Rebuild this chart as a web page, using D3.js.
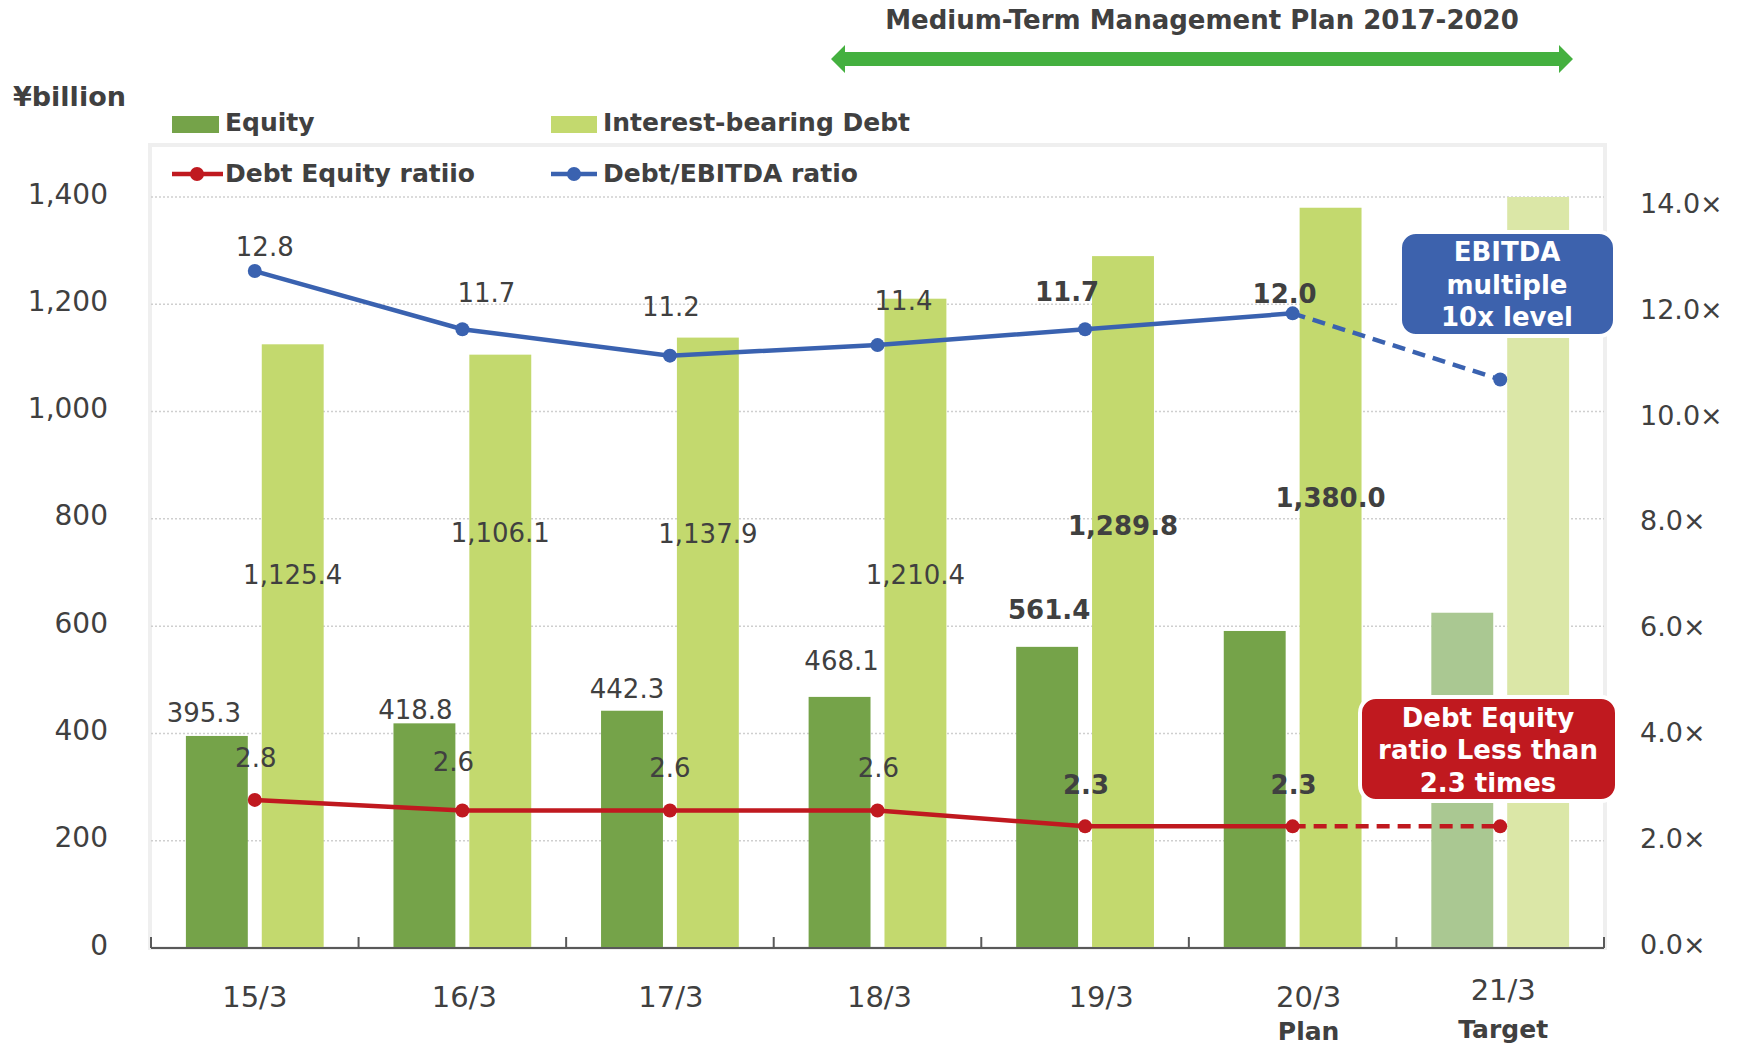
<!DOCTYPE html>
<html>
<head>
<meta charset="utf-8">
<script src="https://cdn.jsdelivr.net/npm/d3@7"></script>
<style>
  body { margin: 0; background: #fff; }
  svg text { font-family: "DejaVu Sans", Verdana, sans-serif; fill: #404040; }
</style>
</head>
<body>
<svg id="chart"></svg>
<script>
// data
var categories = ["15/3", "16/3", "17/3", "18/3", "19/3", "20/3", "21/3"];
var subLabels = ["", "", "", "", "", "Plan", "Target"];
var equity = [395.3, 418.8, 442.3, 468.1, 561.4, 591, 625];
var debt = [1125.4, 1106.1, 1137.9, 1210.4, 1289.8, 1380.0, 1400];
var deRatio = [2.8, 2.6, 2.6, 2.6, 2.3, 2.3, 2.3];
var ebitdaRatio = [12.8, 11.7, 11.2, 11.4, 11.7, 12.0, 10.75];
var equityLabels = ["395.3", "418.8", "442.3", "468.1", "561.4", "", ""];
var debtLabels = ["1,125.4", "1,106.1", "1,137.9", "1,210.4", "1,289.8", "1,380.0", ""];
var deLabels = ["2.8", "2.6", "2.6", "2.6", "2.3", "2.3", ""];
var ebitdaLabels = ["12.8", "11.7", "11.2", "11.4", "11.7", "12.0", ""];
var leftTicks = [0, 200, 400, 600, 800, 1000, 1200, 1400];
var rightTicks = [0, 2, 4, 6, 8, 10, 12, 14];

// label placement (left axis units / pixel nudges)
var equityLabelAt = [438, 444, 483, 535, 630];
var equityDx = [-13, -9, -5, 2, 2];
var debtLabelAt = [695, 774, 772, 695, 787, 839];
var ebitdaDx = [10, 24, 1, 26, -18, -8], ebitdaDy = [-24, -36, -49, -44, -37, -19];
var deDx = [1, -9, 0, 1, 1, 1], deDy = [-42, -48, -42, -42, -41, -41];
var catDx = [0, 2, 1, 2, 16, 16, 3];

var W = 1740, H = 1046;
var pLeft = 151, pRight = 1604, pTop = 197, pBottom = 948;
var boldIdx = function(i) { return i >= 4; };

var svg = d3.select("#chart").attr("width", W).attr("height", H);

var x = d3.scaleBand().domain(categories).range([pLeft, pRight]);
var x1 = d3.scaleBand().domain(["equity", "debt"]).range([0, x.bandwidth()])
           .paddingInner(0.184).paddingOuter(0.46);
var y = d3.scaleLinear().domain([0, 1400]).range([pBottom, pTop]);
var y2 = d3.scaleLinear().domain([0, 14.2]).range([pBottom, pTop]);

// frame
svg.append("rect").attr("x", pLeft - 1).attr("y", 145).attr("width", pRight - pLeft + 2)
   .attr("height", pBottom - 145).attr("fill", "none").attr("stroke", "#efefef").attr("stroke-width", 4);

// grid
svg.append("g").selectAll("line").data(leftTicks.slice(1)).enter().append("line")
   .attr("x1", pLeft).attr("x2", pRight)
   .attr("y1", function(d) { return y(d); }).attr("y2", function(d) { return y(d); })
   .attr("stroke", "#cfcfcf").attr("stroke-width", 1.5).attr("stroke-dasharray", "2,2");

// bars
var equityCol = function(i) { return i == 6 ? "#aac892" : "#75a349"; };
var debtCol = function(i) { return i == 6 ? "#dbe7a7" : "#c3d96e"; };

svg.append("g").selectAll("rect").data(equity).enter().append("rect")
   .attr("x", function(d, i) { return x(categories[i]) + x1("equity"); })
   .attr("y", function(d) { return y(d); })
   .attr("width", x1.bandwidth())
   .attr("height", function(d) { return pBottom - y(d); })
   .attr("fill", function(d, i) { return equityCol(i); });

svg.append("g").selectAll("rect").data(debt).enter().append("rect")
   .attr("x", function(d, i) { return x(categories[i]) + x1("debt"); })
   .attr("y", function(d) { return y(d); })
   .attr("width", x1.bandwidth())
   .attr("height", function(d) { return pBottom - y(d); })
   .attr("fill", function(d, i) { return debtCol(i); });

// bottom axis
var xAxis = svg.append("g");
xAxis.append("line").attr("x1", pLeft).attr("x2", pRight).attr("y1", pBottom).attr("y2", pBottom)
     .attr("stroke", "#595959").attr("stroke-width", 2);
xAxis.selectAll("line.tick").data(categories.concat(["end"])).enter().append("line")
     .attr("class", "tick")
     .attr("x1", function(d, i) { return pLeft + i * x.step(); })
     .attr("x2", function(d, i) { return pLeft + i * x.step(); })
     .attr("y1", pBottom).attr("y2", pBottom - 11)
     .attr("stroke", "#595959").attr("stroke-width", 2);

xAxis.selectAll("text.cat").data(categories).enter().append("text")
     .attr("class", "cat")
     .attr("x", function(d, i) { return x(d) + x.bandwidth() / 2 + catDx[i]; })
     .attr("y", function(d, i) { return i == 6 ? 990 : 997; })
     .attr("text-anchor", "middle").attr("dominant-baseline", "central")
     .attr("font-size", 29).text(function(d) { return d; });
xAxis.selectAll("text.sub").data(subLabels).enter().append("text")
     .attr("class", "sub")
     .attr("x", function(d, i) { return x(categories[i]) + x.bandwidth() / 2 + catDx[i]; })
     .attr("y", function(d, i) { return i == 6 ? 1029 : 1031; })
     .attr("text-anchor", "middle").attr("dominant-baseline", "central")
     .attr("font-size", 25).attr("font-weight", "bold").text(function(d) { return d; });

// left axis labels
svg.append("g").selectAll("text").data(leftTicks).enter().append("text")
   .attr("x", 108).attr("y", function(d) { return y(d) - 3; })
   .attr("text-anchor", "end").attr("dominant-baseline", "central")
   .attr("font-size", 28).text(function(d) { return d3.format(",")(d); });

// right axis labels
svg.append("g").selectAll("text").data(rightTicks).enter().append("text")
   .attr("x", 1640).attr("y", function(d) { return y2(d) - 4; })
   .attr("dominant-baseline", "central")
   .attr("font-size", 27).text(function(d) { return d3.format(".1f")(d) + "\u00d7"; });

// lines
function drawLine(values, col) {
  var solid = d3.line()
      .x(function(d, i) { return x(categories[i]) + x.bandwidth() / 2; })
      .y(function(d) { return y2(d); });
  var pts = values.map(function(d, i) { return [x(categories[i]) + x.bandwidth() / 2, y2(d)]; });
  svg.append("path").datum(values.slice(0, 6)).attr("d", solid)
     .attr("fill", "none").attr("stroke", col).attr("stroke-width", 4.5);
  svg.append("path").datum(pts.slice(5)).attr("d", d3.line())
     .attr("fill", "none").attr("stroke", col).attr("stroke-width", 4.5).attr("stroke-dasharray", "13,8");
  svg.append("g").selectAll("circle").data(pts).enter().append("circle")
     .attr("cx", function(d) { return d[0]; }).attr("cy", function(d) { return d[1]; })
     .attr("r", 7).attr("fill", col);
}
drawLine(deRatio, "#c0191f");
drawLine(ebitdaRatio, "#3a62b0");

// data labels
svg.append("g").selectAll("text").data(equityLabels.slice(0, 5)).enter().append("text")
   .attr("x", function(d, i) { return x(categories[i]) + x1("equity") + x1.bandwidth() / 2 + equityDx[i]; })
   .attr("y", function(d, i) { return y(equityLabelAt[i]); })
   .attr("text-anchor", "middle").attr("dominant-baseline", "central")
   .attr("font-size", 26).attr("font-weight", function(d, i) { return boldIdx(i) ? "bold" : "normal"; })
   .text(function(d) { return d; });

svg.append("g").selectAll("text").data(debtLabels.slice(0, 6)).enter().append("text")
   .attr("x", function(d, i) { return x(categories[i]) + x1("debt") + x1.bandwidth() / 2; })
   .attr("y", function(d, i) { return y(debtLabelAt[i]); })
   .attr("text-anchor", "middle").attr("dominant-baseline", "central")
   .attr("font-size", 26).attr("font-weight", function(d, i) { return boldIdx(i) ? "bold" : "normal"; })
   .text(function(d) { return d; });

svg.append("g").selectAll("text").data(ebitdaLabels.slice(0, 6)).enter().append("text")
   .attr("x", function(d, i) { return x(categories[i]) + x.bandwidth() / 2 + ebitdaDx[i]; })
   .attr("y", function(d, i) { return y2(ebitdaRatio[i]) + ebitdaDy[i]; })
   .attr("text-anchor", "middle").attr("dominant-baseline", "central")
   .attr("font-size", 26).attr("font-weight", function(d, i) { return boldIdx(i) ? "bold" : "normal"; })
   .text(function(d) { return d; });

svg.append("g").selectAll("text").data(deLabels.slice(0, 6)).enter().append("text")
   .attr("x", function(d, i) { return x(categories[i]) + x.bandwidth() / 2 + deDx[i]; })
   .attr("y", function(d, i) { return y2(deRatio[i]) + deDy[i]; })
   .attr("text-anchor", "middle").attr("dominant-baseline", "central")
   .attr("font-size", 26).attr("font-weight", function(d, i) { return boldIdx(i) ? "bold" : "normal"; })
   .text(function(d) { return d; });

// unit label
svg.append("text").attr("x", 13).attr("y", 96).attr("dominant-baseline", "central")
   .attr("font-size", 27).attr("font-weight", "bold").text("\u00a5billion");

// legend
var leg = svg.append("g").attr("font-size", 25).attr("font-weight", "bold");
leg.append("rect").attr("x", 172).attr("y", 116).attr("width", 47).attr("height", 17).attr("fill", "#75a349");
leg.append("text").attr("x", 225).attr("y", 122).attr("dominant-baseline", "central").text("Equity");
leg.append("rect").attr("x", 551).attr("y", 116).attr("width", 46).attr("height", 17).attr("fill", "#c3d96e");
leg.append("text").attr("x", 603).attr("y", 122).attr("dominant-baseline", "central").text("Interest-bearing Debt");
leg.append("line").attr("x1", 172).attr("x2", 223).attr("y1", 174).attr("y2", 174).attr("stroke", "#c0191f").attr("stroke-width", 4.5);
leg.append("circle").attr("cx", 197).attr("cy", 174).attr("r", 7).attr("fill", "#c0191f");
leg.append("text").attr("x", 225).attr("y", 173).attr("dominant-baseline", "central").text("Debt Equity ratiio");
leg.append("line").attr("x1", 551).attr("x2", 597).attr("y1", 174).attr("y2", 174).attr("stroke", "#3a62b0").attr("stroke-width", 4.5);
leg.append("circle").attr("cx", 574).attr("cy", 174).attr("r", 7).attr("fill", "#3a62b0");
leg.append("text").attr("x", 603).attr("y", 173).attr("dominant-baseline", "central").text("Debt/EBITDA ratio");

// medium-term plan header
svg.append("text").attr("x", 1202).attr("y", 20).attr("text-anchor", "middle").attr("dominant-baseline", "central")
   .attr("font-size", 26).attr("font-weight", "bold").text("Medium-Term Management Plan 2017-2020");
var ax0 = 831, ax1 = 1573, ay = 59;
svg.append("path")
   .attr("d", "M" + ax0 + "," + ay + " L" + (ax0 + 14) + "," + (ay - 14) + " L" + (ax0 + 14) + "," + (ay - 7) +
              " L" + (ax1 - 14) + "," + (ay - 7) + " L" + (ax1 - 14) + "," + (ay - 14) + " L" + ax1 + "," + ay +
              " L" + (ax1 - 14) + "," + (ay + 14) + " L" + (ax1 - 14) + "," + (ay + 7) + " L" + (ax0 + 14) + "," + (ay + 7) +
              " L" + (ax0 + 14) + "," + (ay + 14) + " Z")
   .attr("fill", "#44b03f");

// callouts
function callout(x0, y0, w, h, col, lines, cx, ly) {
  svg.append("rect").attr("x", x0).attr("y", y0).attr("width", w).attr("height", h)
     .attr("rx", 16).attr("fill", col).attr("stroke", "#fff").attr("stroke-width", 4);
  svg.append("g").selectAll("text").data(lines).enter().append("text")
     .attr("x", cx).attr("y", function(d, i) { return ly[i]; })
     .attr("text-anchor", "middle").attr("dominant-baseline", "central")
     .attr("font-size", 26).attr("font-weight", "bold").style("fill", "#fff")
     .text(function(d) { return d; });
}
callout(1400, 232, 215, 104, "#3d62ad", ["EBITDA", "multiple", "10x level"], 1507, [252, 285, 317]);
callout(1360, 697, 257, 104, "#c0191f", ["Debt Equity", "ratio Less than", "2.3 times"], 1488, [718, 750, 783]);
</script>
</body>
</html>
